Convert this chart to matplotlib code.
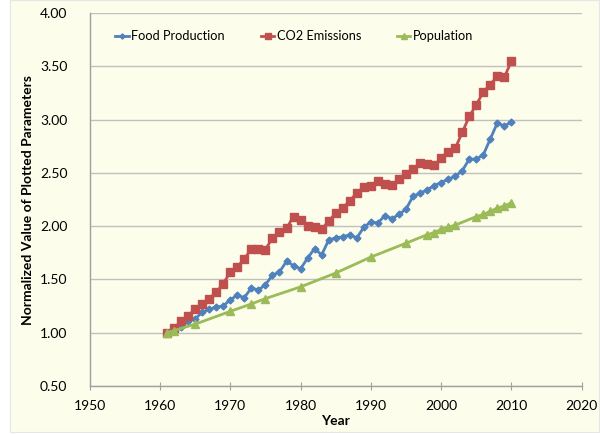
import numpy as np
import matplotlib
matplotlib.use("Agg")
import matplotlib.pyplot as plt
from matplotlib.patches import Rectangle

years = list(range(1961, 2011))

food = [1.00, 1.02, 1.05, 1.11, 1.13, 1.19, 1.22, 1.24, 1.25, 1.31,
        1.35, 1.33, 1.42, 1.40, 1.45, 1.54, 1.57, 1.67, 1.63, 1.60,
        1.70, 1.79, 1.73, 1.87, 1.89, 1.90, 1.92, 1.89, 1.99, 2.04,
        2.03, 2.10, 2.07, 2.11, 2.16, 2.28, 2.31, 2.34, 2.38, 2.41,
        2.44, 2.47, 2.52, 2.63, 2.63, 2.67, 2.82, 2.97, 2.94, 2.98]

co2 = [1.00, 1.04, 1.11, 1.16, 1.22, 1.27, 1.32, 1.38, 1.46, 1.57,
       1.62, 1.69, 1.79, 1.79, 1.78, 1.89, 1.95, 1.98, 2.09, 2.06,
       2.00, 1.99, 1.97, 2.05, 2.12, 2.17, 2.24, 2.31, 2.37, 2.38,
       2.42, 2.40, 2.39, 2.44, 2.49, 2.54, 2.59, 2.58, 2.57, 2.64,
       2.70, 2.73, 2.88, 3.03, 3.14, 3.26, 3.33, 3.41, 3.40, 3.55]

pop_years = [1961, 1962, 1965, 1970, 1973, 1975, 1980, 1985, 1990, 1995,
             1998, 1999, 2000, 2001, 2002, 2005, 2006, 2007, 2008, 2009, 2010]
pop = [1.00, 1.02, 1.08, 1.20, 1.27, 1.32, 1.43, 1.56, 1.71, 1.84,
       1.92, 1.94, 1.97, 1.99, 2.01, 2.09, 2.11, 2.14, 2.17, 2.19, 2.22]

x_ticks = list(range(1950, 2021, 10))
y_ticks = [0.5, 1.0, 1.5, 2.0, 2.5, 3.0, 3.5, 4.0]

cream = "#fdfdeb"
plt.rcParams["font.family"] = ["Lato", "DejaVu Sans"]

fig = plt.figure(figsize=(6.0, 4.34), dpi=100, facecolor="white")
bg = Rectangle((10 / 600, 2 / 434), 589 / 600, 432 / 434,
               transform=fig.transFigure, facecolor=cream,
               edgecolor="#e6e6e6", lw=0.8, zorder=-10)
fig.add_artist(bg)
ax = fig.add_axes([0.1495, 0.1108, 0.82, 0.8588])
ax.set_facecolor(cream)

ax.plot(years, food, color="#4f81bd", lw=2, marker="D", ms=3.5,
        label="Food Production", zorder=3)
ax.plot(years, co2, color="#c0504d", lw=2, marker="s", ms=5.5,
        label="CO2 Emissions", zorder=3)
ax.plot(pop_years, pop, color="#9bbb59", lw=2, marker="^", ms=5.5,
        label="Population", zorder=3)

ax.set_xlim(1950, 2020)
ax.set_ylim(0.5, 4.0)
ax.set_xticks(x_ticks)
ax.set_yticks(y_ticks)
ax.set_yticklabels(["{:.2f}".format(v) for v in y_ticks])
ax.tick_params(axis="x", direction="inout", length=6, color="#a0a0a0",
               labelsize=10, pad=7)
ax.tick_params(axis="y", length=0, labelsize=10, pad=16)
ax.yaxis.grid(True, color="#c0c0c0", lw=1)
ax.set_axisbelow(True)
for s in ["top", "right"]:
    ax.spines[s].set_visible(False)
for s in ["left", "bottom"]:
    ax.spines[s].set_color("#a0a0a0")
    ax.spines[s].set_linewidth(1)

ax.set_xlabel("Year", fontsize=10, fontweight="bold", labelpad=2)
ax.set_ylabel("Normalized Value of Plotted Parameters", fontsize=10,
              fontweight="bold", labelpad=4)

ax.legend(loc="upper center", bbox_to_anchor=(0.416, 0.985), ncol=3,
          frameon=False, fontsize=9.2, handlelength=1.05, handletextpad=0.2,
          columnspacing=2.8, markerscale=0.75)

fig.savefig("out.png", dpi=100, facecolor=fig.get_facecolor())
